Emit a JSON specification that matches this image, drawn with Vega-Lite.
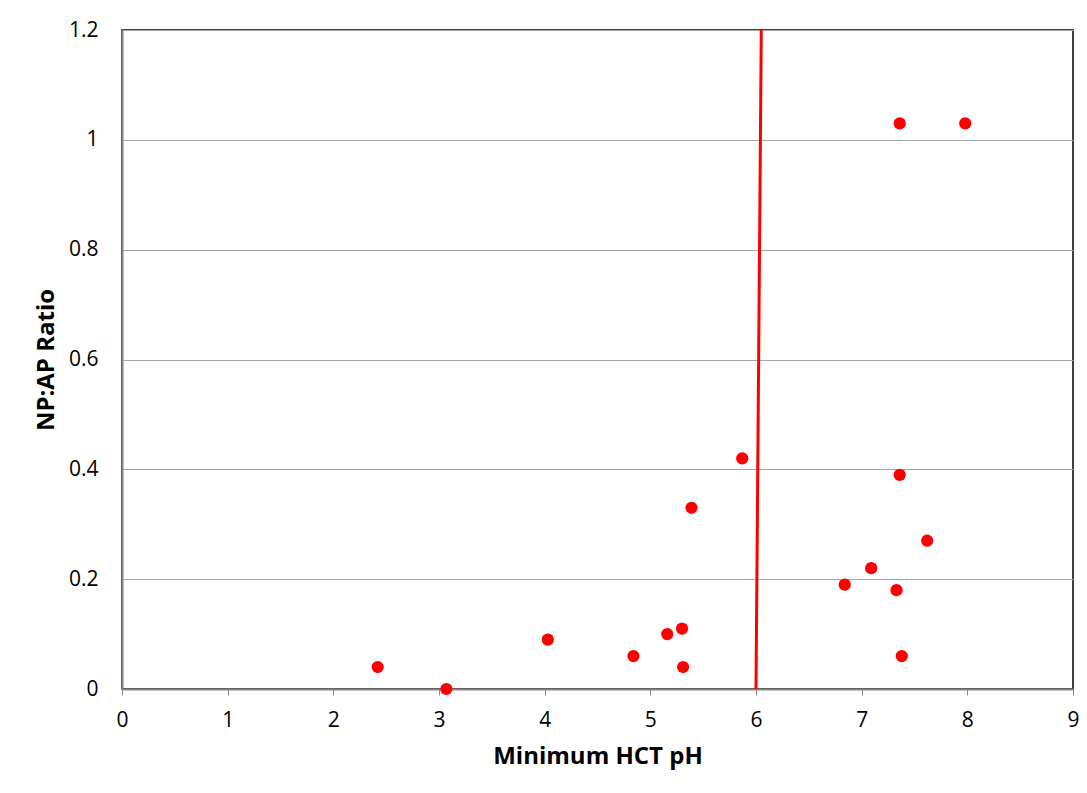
{
  "$schema": "https://vega.github.io/schema/vega-lite/v6.json",
  "width": 951,
  "height": 659,
  "autosize": {"type": "none"},
  "padding": {"left": 122, "top": 30, "right": 14, "bottom": 104},
  "background": "white",
  "config": {
    "view": {"stroke": "#000000", "strokeWidth": 1.5},
    "font": "Open Sans"
  },
  "datasets": {
    "pts": [
      {"ph": 2.42, "ratio": 0.04},
      {"ph": 3.07, "ratio": 0.0},
      {"ph": 4.03, "ratio": 0.09},
      {"ph": 4.84, "ratio": 0.06},
      {"ph": 5.16, "ratio": 0.10},
      {"ph": 5.30, "ratio": 0.11},
      {"ph": 5.31, "ratio": 0.04},
      {"ph": 5.39, "ratio": 0.33},
      {"ph": 5.87, "ratio": 0.42},
      {"ph": 6.84, "ratio": 0.19},
      {"ph": 7.09, "ratio": 0.22},
      {"ph": 7.33, "ratio": 0.18},
      {"ph": 7.36, "ratio": 0.39},
      {"ph": 7.38, "ratio": 0.06},
      {"ph": 7.62, "ratio": 0.27},
      {"ph": 7.36, "ratio": 1.03},
      {"ph": 7.98, "ratio": 1.03}
    ],
    "line": [
      {"x1": 6.0, "y1": 0, "x2": 6.05, "y2": 1.2}
    ]
  },
  "layer": [
    {
      "data": {"name": "pts"},
      "mark": {"type": "circle", "color": "#ff0000", "opacity": 1, "size": 150},
      "encoding": {
        "x": {
          "field": "ph", "type": "quantitative",
          "scale": {"domain": [0, 9], "nice": false, "zero": false},
          "axis": {
            "title": "Minimum HCT pH",
            "titleFont": "Open Sans", "titleFontSize": 24, "titleFontWeight": "bold", "titleColor": "#000",
            "titlePadding": 14,
            "values": [0,1,2,3,4,5,6,7,8,9],
            "format": "~g",
            "labelFlush": false,
            "labelFontSize": 21, "labelColor": "#000", "labelPadding": 14,
            "domainColor": "#868686", "domainWidth": 2,
            "tickColor": "#868686", "tickSize": 6, "tickWidth": 1,
            "grid": false
          }
        },
        "y": {
          "field": "ratio", "type": "quantitative",
          "scale": {"domain": [0, 1.2], "nice": false},
          "axis": {
            "title": "NP:AP Ratio",
            "titleFont": "Open Sans", "titleFontSize": 24, "titleFontWeight": "bold", "titleColor": "#000",
            "titlePadding": 10,
            "values": [0, 0.2, 0.4, 0.6, 0.8, 1, 1.2],
            "format": "~g",
            "labelFlush": false,
            "labelFontSize": 21, "labelColor": "#000", "labelPadding": 24,
            "domainColor": "#868686", "domainWidth": 2,
            "ticks": false,
            "grid": true, "gridColor": "#a6a6a6", "gridWidth": 1, "gridOpacity": 1
          }
        }
      }
    },
    {
      "data": {"name": "line"},
      "mark": {"type": "rule", "color": "#ff0000", "strokeWidth": 3},
      "encoding": {
        "x": {"field": "x1", "type": "quantitative"},
        "y": {"field": "y1", "type": "quantitative"},
        "x2": {"field": "x2"},
        "y2": {"field": "y2"}
      }
    }
  ]
}
